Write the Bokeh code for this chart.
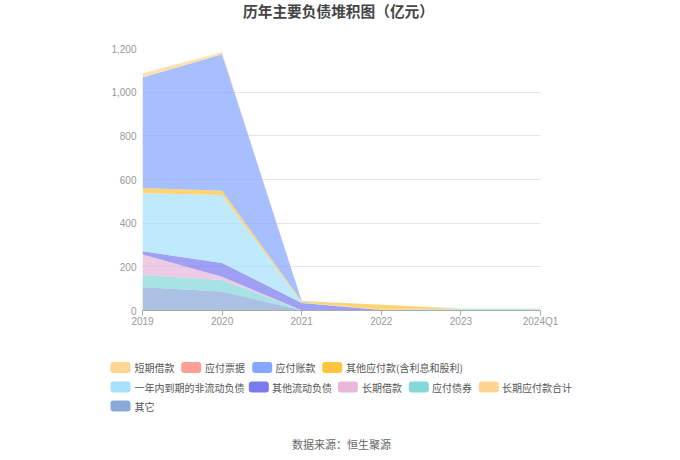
from bokeh.plotting import figure
from bokeh.layouts import column
from bokeh.models import (Range1d, FixedTicker, NumeralTickFormatter,
                          ColumnDataSource)
from bokeh.core.properties import value
from bokeh.embed import file_html
from bokeh.resources import INLINE

# ---------------- data (亿元) ----------------
periods = ["2019", "2020", "2021", "2022", "2023", "2024Q1"]
series_names = ["短期借款", "应付票据", "应付账款", "其他应付款(含利息和股利)",
                "一年内到期的非流动负债", "其他流动负债", "长期借款", "应付债券",
                "长期应付款合计", "其它"]
short_loans = [20, 9, 0, 0, 0, 0]
notes_payable = [0, 0, 0, 0, 0, 0]
accounts_payable = [506, 625, 1, 0, 0, 0]
other_payables = [24, 20, 5, 22, 2, 0.5]
current_portion_ncl = [266, 311, 3, 2, 7, 8]
other_current_liab = [15, 63, 33, 1, 0, 0]
long_loans = [93, 15, 0, 0, 0, 0]
bonds_payable = [56, 53, 0, 0, 0, 0]
long_term_payables = [0, 0, 0, 0, 0, 0]
others = [107, 87, 1, 1, 0.5, 0.5]
series_values = [short_loans, notes_payable, accounts_payable, other_payables,
                 current_portion_ncl, other_current_liab, long_loans,
                 bonds_payable, long_term_payables, others]
colors = ["#FFD591", "#FF9F97", "#86A6FF", "#FFC53D", "#A6E0FC",
          "#7A7AF0", "#E8B7DA", "#85D7D9", "#FFD591", "#89A9D9"]
y_ticks = [0, 200, 400, 600, 800, 1000, 1200]
title_text = "历年主要负债堆积图（亿元）"
source_text = "数据来源：恒生聚源"

CJK = "Noto Sans CJK SC"
LAT = "Liberation Sans"
W = 672


def blank(h, y0):
    f = figure(width=W, height=h, output_backend="svg", toolbar_location=None,
               x_range=Range1d(0, W), y_range=Range1d(y0 + h, y0),
               x_axis_type=None, y_axis_type=None, min_border=0,
               frame_align=False)
    f.outline_line_color = None
    f.xgrid.visible = False
    f.ygrid.visible = False
    return f


# ---------------- header (page y 0..30) ----------------
head = blank(30, 0)
head.text(x=[338], y=[9.5], text=[title_text], text_font=value(CJK),
          text_font_size="14.7px", text_font_style="bold", text_color="#444444",
          text_align="center", text_baseline="middle")

# ---------------- chart (page y 30..330), frame 142..540 x 48..310 -------
p = figure(width=W, height=300, output_backend="svg", toolbar_location=None,
           x_range=Range1d(0, len(periods) - 1), y_range=Range1d(0, 1200),
           min_border_left=142, min_border_right=W - 540, min_border_top=18,
           min_border_bottom=20, frame_align=False)
p.outline_line_color = None

xs = list(range(len(periods)))
data = {"x": xs}
keys = []
for i, vals in enumerate(series_values):
    k = "s%d" % i
    data[k] = vals
    keys.append(k)
src = ColumnDataSource(data)

# stack: last series at the bottom, first series on top
p.varea_stack(stackers=keys[::-1], x="x", color=colors[::-1], fill_alpha=0.72,
              source=src)

p.xaxis.ticker = FixedTicker(ticks=xs)
p.xaxis.major_label_overrides = {i: s for i, s in enumerate(periods)}
p.xaxis.axis_line_color = "#aaaaaa"
p.xaxis.major_tick_line_color = "#aaaaaa"
p.xaxis.major_tick_out = 5
p.xaxis.major_tick_in = 0
p.xaxis.minor_tick_line_color = None
p.xaxis.major_label_text_font = LAT
p.xaxis.major_label_text_font_size = "10px"
p.xaxis.major_label_text_color = "#999999"
p.xaxis.major_label_standoff = 0

p.yaxis.ticker = FixedTicker(ticks=y_ticks)
p.yaxis.formatter = NumeralTickFormatter(format="0,0")
p.yaxis.axis_line_color = None
p.yaxis.major_tick_line_color = None
p.yaxis.major_tick_out = 0
p.yaxis.major_tick_in = 0
p.yaxis.minor_tick_line_color = None
p.yaxis.major_label_text_font = LAT
p.yaxis.major_label_text_font_size = "10px"
p.yaxis.major_label_text_color = "#999999"
p.yaxis.major_label_standoff = 6

p.xgrid.grid_line_color = None
p.ygrid.ticker = FixedTicker(ticks=y_ticks)
p.ygrid.grid_line_color = "#e3e6f0"

# ---------------- footer: legend + source (page y 330..452) -------------
foot = blank(122, 330)
# layout positions (page px): swatch left, label left, row centre
sw_left = [110, 180.7, 251.7, 321.7, 110, 248.3, 337.3, 408.3, 478.3, 110]
lab_left = [134, 204.5, 275, 345.5, 134, 271.5, 361.5, 431.5, 501.5, 134]
row_y = [367, 367, 367, 367, 386.5, 386.5, 386.5, 386.5, 386.5, 405.5]
leg = ColumnDataSource(dict(
    l=sw_left, r=[v + 20 for v in sw_left],
    t=[v - 5.5 for v in row_y], b=[v + 5.5 for v in row_y],
    tx=lab_left, ty=row_y, name=series_names, color=colors))
foot.quad(left="l", right="r", top="t", bottom="b", fill_color="color",
          line_color=None, border_radius=3, source=leg)
foot.text(x="tx", y="ty", text="name", text_font=value(CJK),
          text_font_size="10px", text_color="#555555", text_align="left",
          text_baseline="middle", source=leg)
foot.text(x=[341], y=[443.5], text=[source_text], text_font=value(CJK),
          text_font_size="11px", text_color="#666666", text_align="center",
          text_baseline="middle")

layout = column(head, p, foot, spacing=0)
open("out.html", "w").write(file_html(layout, INLINE))
